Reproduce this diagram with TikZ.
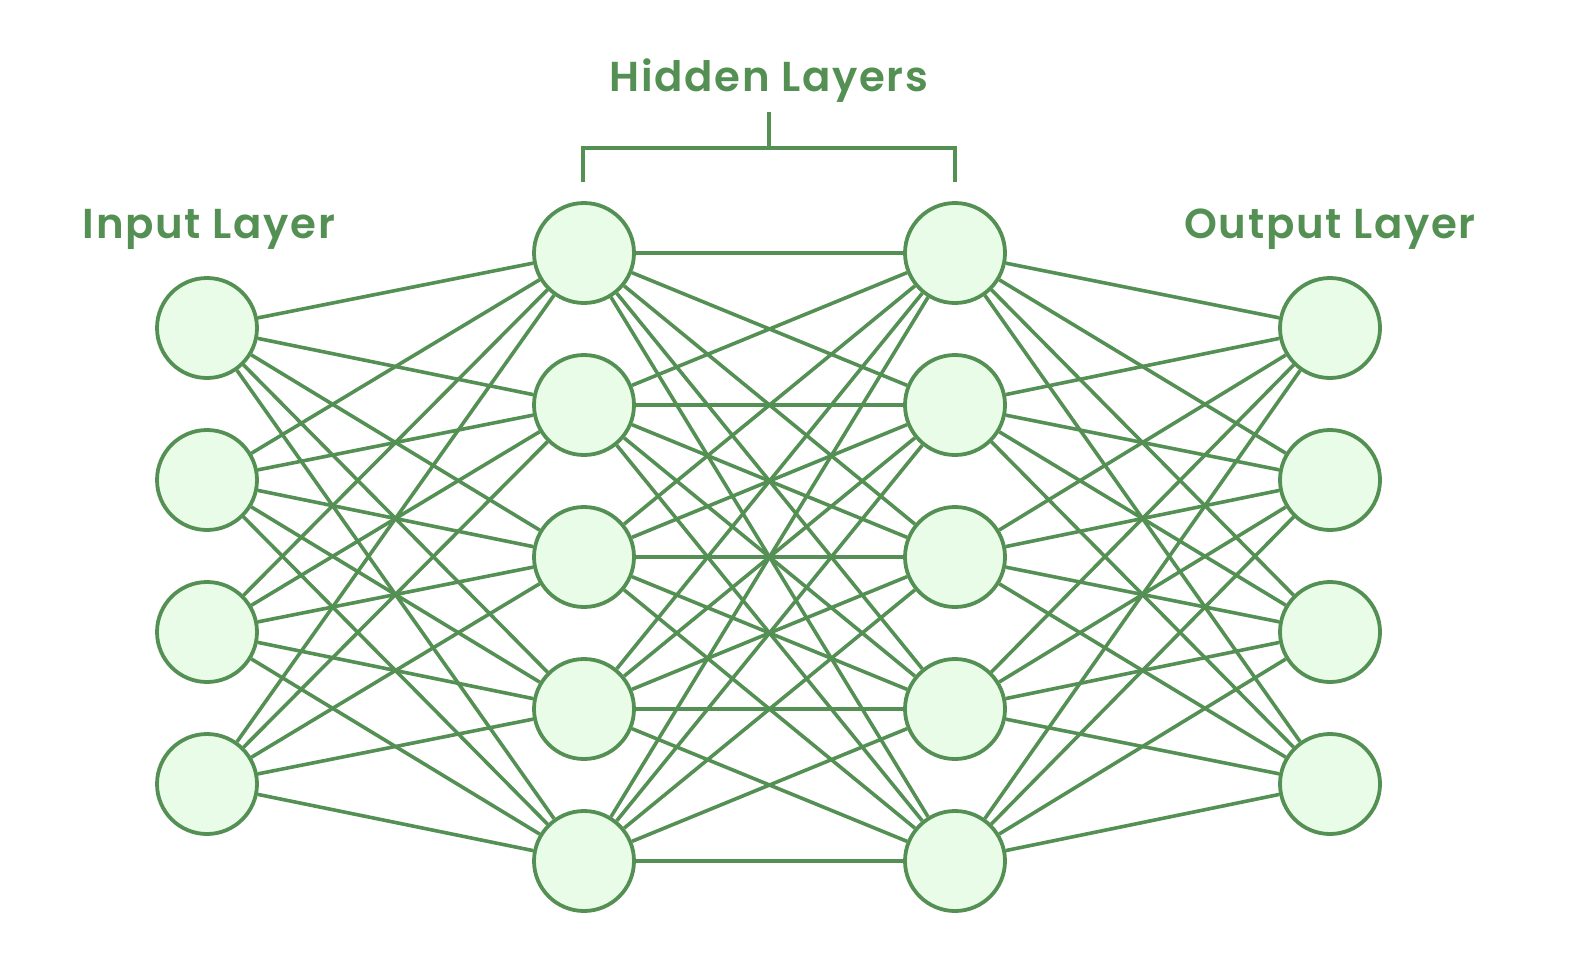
\documentclass[tikz,border=0pt]{standalone}
\usepackage{fontspec}
\setmainfont{Poppins}[BoldFont={Poppins SemiBold}]
\definecolor{nnline}{RGB}{84,144,84}
\definecolor{nnfill}{RGB}{232,252,232}
\begin{document}
\begin{tikzpicture}[x=1bp,y=-1bp,
  neuron/.style={circle,draw=nnline,fill=nnfill,line width=3.8bp,minimum size=100bp,inner sep=0pt},
  conn/.style={draw=nnline,line width=3.6bp},
  lbl/.style={text=nnline,font=\addfontfeatures{LetterSpace=4}\bfseries\fontsize{42}{46}\selectfont,inner sep=0pt,anchor=base}]
\useasboundingbox (0,0) rectangle (1577,976);
\foreach \k/\y in {1/328,2/480,3/632,4/784}{
  \node[neuron] (i\k) at (207,\y) {};
  \node[neuron] (o\k) at (1330,\y) {};
}
\foreach \k/\y in {1/253,2/405,3/557,4/709,5/861}{
  \node[neuron] (a\k) at (584,\y) {};
  \node[neuron] (b\k) at (955,\y) {};
}
\foreach \p in {1,...,4}{\foreach \q in {1,...,5}{
  \draw[conn] (i\p) -- (a\q);
  \draw[conn] (b\q) -- (o\p);
}}
\foreach \p in {1,...,5}{\foreach \q in {1,...,5}{
  \draw[conn] (a\p) -- (b\q);
}}
\node[lbl] (tin) at (209,238) {Input Layer};
\node[lbl] (tout) at (1330,238) {Output Layer};
\node[lbl] (thid) at (769,91) {Hidden Layers};
\coordinate (bt) at (769,112);
\coordinate (bm) at (769,148);
\coordinate (bl) at (583,182);
\coordinate (br) at (955,182);
\draw[conn] (bt) -- (bm);
\draw[conn] (bl) |- (bm) -| (br);
\end{tikzpicture}
\end{document}
